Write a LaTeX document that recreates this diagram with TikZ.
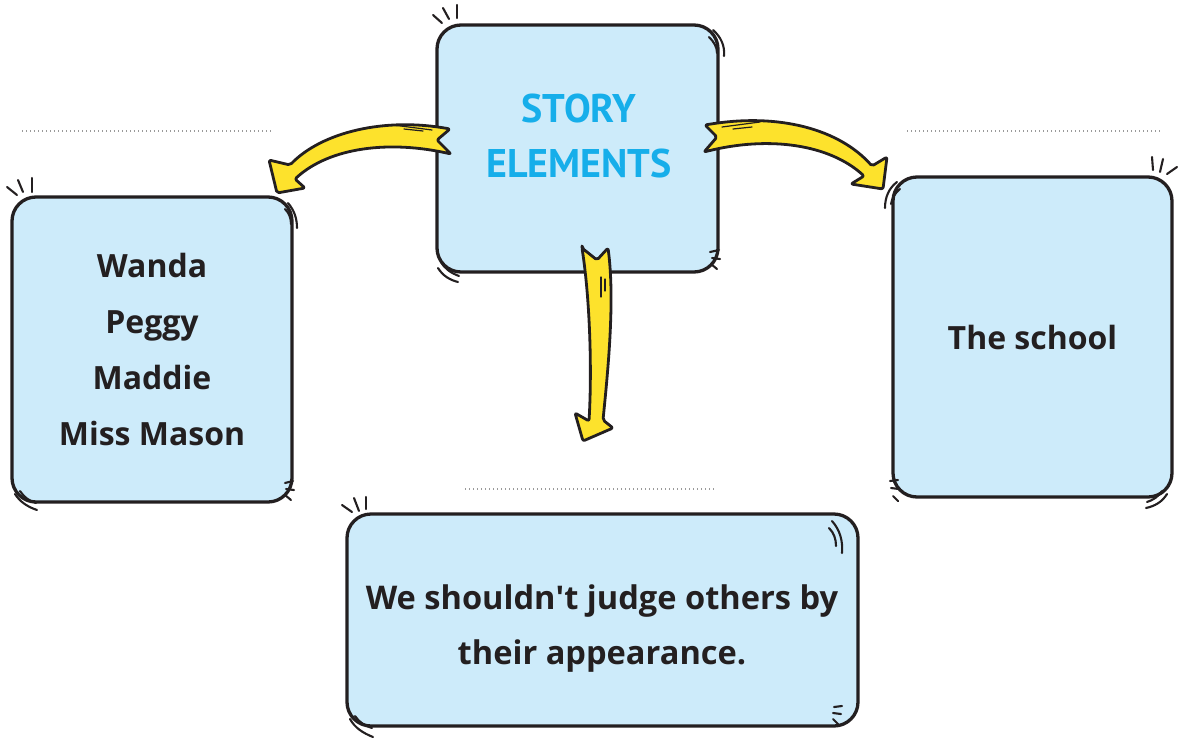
\documentclass[tikz,border=0pt]{standalone}
\usepackage{fontspec}
\setmainfont{Open Sans}
\newfontfamily\titlefont{PT Sans}
\definecolor{boxfill}{HTML}{CDEBFA}
\definecolor{ink}{HTML}{231F20}
\definecolor{cyantext}{HTML}{16AEEA}
\definecolor{arrowyellow}{HTML}{FDE22C}
\definecolor{dotgray}{HTML}{9A9A9A}
\tikzset{
  card/.style={draw=ink, fill=boxfill, line width=3.3pt, rounded corners=24pt, inner sep=0pt},
  cardtext/.style={text=ink, font=\bfseries\fontsize{32}{56}\selectfont, align=center},
  titletext/.style={text=cyantext, font=\titlefont\bfseries\fontsize{40}{55}\selectfont, align=center},
  yarrow/.style={fill=arrowyellow, draw=ink, line width=2.8pt, line join=round, rounded corners=2pt},
  tickline/.style={draw=ink, line width=2.1pt, line cap=round},
  shine/.style={draw=ink, line width=1.2pt, line cap=round},
  divider/.style={draw=dotgray, line width=1.3pt, dash pattern=on 1.3pt off 2.7pt}
}
\begin{document}
\begin{tikzpicture}[x=1pt,y=-1pt]
\useasboundingbox (0,0) rectangle (1180,742);
% dividers
\draw[divider] (22,131) -- (273,131);
\draw[divider] (907,131) -- (1160,131);
\draw[divider] (465,489) -- (715,489);
% boxes
\node[card, minimum width=281pt, minimum height=247pt] (elements) at (577.5,148.5) {};
\node[titletext] (elementstext) at (579,136) {STORY\\ELEMENTS};
\node[card, minimum width=280pt, minimum height=305pt, cardtext] (characters) at (152,349.5) {Wanda\\Peggy\\Maddie\\Miss Mason};
\node[card, minimum width=279pt, minimum height=320pt, cardtext] (setting) at (1032.5,337) {The school};
\node[card, minimum width=511pt, minimum height=212pt] (theme) at (602.5,620) {};
\node[cardtext, font=\bfseries\fontsize{32.6}{55}\selectfont] (themetext) at (602,629) {We shouldn\textquotesingle t judge others by\\their appearance.};
% corner ticks: elements
\draw[tickline] (433,15) -- (442,23);
\draw[tickline] (443,8) -- (449,19);
\draw[tickline] (457,5) -- (457,18);
\draw[tickline] (713,30) .. controls (721,37) and (725,46) .. (724,56);
\draw[tickline] (709,37) .. controls (714,42) and (717,47) .. (717,53);
\draw[tickline] (441,262) .. controls (445,269) and (451,273) .. (459,276);
\draw[tickline] (438,268) .. controls (443,276) and (450,280) .. (458,282);
\draw[tickline] (710,252) -- (719,250);
\draw[tickline] (712,258) -- (720,259);
\draw[tickline] (711,264) -- (717,269);
% corner ticks: characters
\draw[tickline] (7,187) -- (17,195);
\draw[tickline] (18,180) -- (23,192);
\draw[tickline] (32,178) -- (32,192);
\draw[tickline] (288,203) .. controls (294,210) and (297,218) .. (297,228);
\draw[tickline] (285,209) .. controls (289,213) and (291,218) .. (291,224);
\draw[tickline] (15,494) .. controls (20,502) and (28,507) .. (37,510);
\draw[tickline] (20,491) .. controls (24,497) and (29,501) .. (36,503);
\draw[tickline] (285,483) -- (293,481);
\draw[tickline] (286,489) -- (294,490);
\draw[tickline] (285,495) -- (291,500);
% corner ticks: setting
\draw[tickline] (1152,157) -- (1153,170);
\draw[tickline] (1163,159) -- (1160,172);
\draw[tickline] (1167,174) -- (1177,167);
\draw[tickline] (897,182) .. controls (889,188) and (885,197) .. (885,208);
\draw[tickline] (900,189) .. controls (895,193) and (892,198) .. (891,204);
\draw[tickline] (890,481) -- (898,480);
\draw[tickline] (891,488) -- (899,489);
\draw[tickline] (893,496) -- (898,501);
\draw[tickline] (1167,494) .. controls (1162,502) and (1155,506) .. (1146,508);
\draw[tickline] (1162,491) .. controls (1158,497) and (1153,500) .. (1147,502);
% corner ticks: theme
\draw[tickline] (342,505) -- (352,512);
\draw[tickline] (354,498) -- (359,511);
\draw[tickline] (366,497) -- (366,509);
\draw[tickline] (832,521) .. controls (840,530) and (843,541) .. (842,553);
\draw[tickline] (829,528) .. controls (834,533) and (836,539) .. (836,546);
\draw[tickline] (350,719) .. controls (355,728) and (363,733) .. (373,737);
\draw[tickline] (355,716) .. controls (359,722) and (365,726) .. (372,728);
\draw[tickline] (834,707) -- (842,706);
\draw[tickline] (833,713) -- (841,714);
\draw[tickline] (833,719) -- (838,724);
% arrows
\draw[yarrow] (450,129) .. controls (385,117) and (322,132) .. (290,165)
  -- (269,160) -- (277,193) -- (305,188) -- (295,179)
  .. controls (330,147) and (390,140) .. (451,154) -- (437,140) -- cycle;
\draw[shine] (393,125) -- (432,130);
\draw[shine] (404,129) -- (423,131);
\draw[yarrow] (705,125) .. controls (780,112) and (840,130) .. (872,166)
  -- (887,157) -- (883,189) -- (851,184) -- (864,176)
  .. controls (830,145) and (770,135) .. (704,152) -- (717,137) -- cycle;
\draw[shine] (722,127) -- (760,122);
\draw[shine] (733,129) -- (752,127);
\draw[yarrow] (582,248) -- (597,260) -- (608,248)
  .. controls (615,300) and (608,370) .. (603,420)
  -- (613,428) -- (583,441) -- (575,413) -- (589,421)
  .. controls (592,370) and (590,300) .. (582,248) -- cycle;
\draw[shine] (601,277) -- (601,297);
\draw[shine] (605,279) -- (605,291);
\end{tikzpicture}
\end{document}
